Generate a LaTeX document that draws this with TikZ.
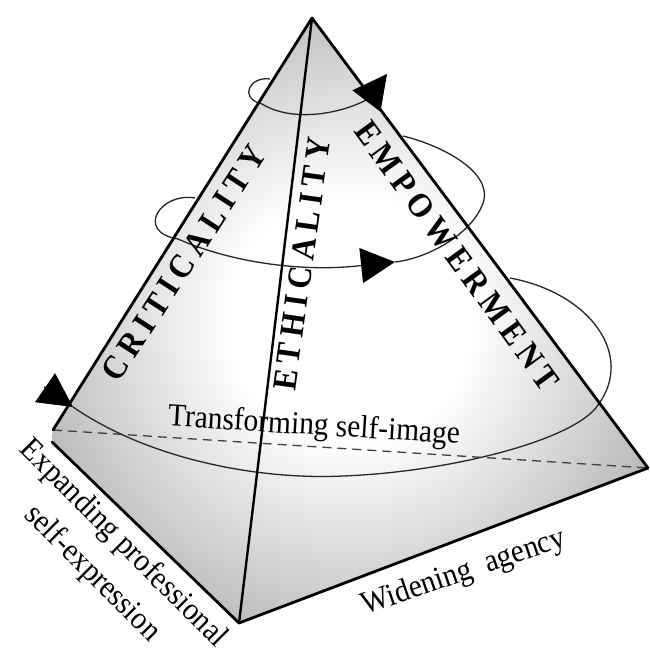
\documentclass[tikz,border=0pt]{standalone}
\usepackage{fontspec}
\setmainfont{Liberation Serif}[FakeStretch=0.92]
\newfontfamily\facefont[LetterSpace=18,FakeStretch=0.92]{Liberation Serif}
\usetikzlibrary{arrows.meta}
\pgfdeclareradialshading{pyramidglow}{\pgfpoint{0bp}{0bp}}{%
  color(0bp)=(white); color(10bp)=(white); color(28bp)=(black!28);
  color(42bp)=(black!48); color(70bp)=(black!55)}

\begin{document}
\begin{tikzpicture}[x=1pt, y=-1pt,
  edge/.style={line width=2.8pt, line cap=round, line join=round},
  coil/.style={line width=1.3pt, black!85},
  coiltip/.style={-{Triangle[length=34pt, width=35pt, color=black]}},
  facelabel/.style={font=\facefont\bfseries\fontsize{34}{34}\selectfont, inner sep=0pt},
  axislabel/.style={font=\fontsize{32}{40}\selectfont, inner sep=0pt}]
  \useasboundingbox (0,0) rectangle (649,658);
  % corners of the pyramid
  \coordinate (apex) at (312,18);
  \coordinate (left) at (53,430);
  \coordinate (leftlow) at (52,442);
  \coordinate (front) at (239,623);
  \coordinate (right) at (648,468);
  \shade[shading=pyramidglow] (apex) -- (left) -- (leftlow) -- (front) -- (right) -- cycle;
  \draw[line width=1.3pt, black!75, dash pattern=on 9pt off 6pt] (left) -- (right);

  % the coil, bottom turn
  \coordinate (c0) at (44,387);
  \coordinate (c1) at (73,407);
  \coordinate (c2) at (598,405);
  \coordinate (c3) at (510,278);
  \draw[coil, coiltip] (c0) -- (c1);
  \draw[coil] (c1) .. controls (150,460) and (260,480) .. (343,476)
    .. controls (450,472) and (575,440) .. (c2)
    .. controls (635,355) and (590,293) .. (c3);
  % middle turn
  \coordinate (c4) at (195,198);
  \coordinate (c5) at (395,262);
  \coordinate (c6) at (403,136);
  \draw[coil, coiltip] (c4) .. controls (160,192) and (135,232) .. (178,239)
    .. controls (230,262) and (300,272) .. (357,266) -- (c5);
  \draw[coil] (c5) .. controls (430,258) and (475,232) .. (484,200)
    .. controls (490,170) and (440,145) .. (c6);
  % top turn
  \coordinate (c7) at (270,79);
  \coordinate (c8) at (387,74);
  \draw[coil, coiltip] (c7) .. controls (250,76) and (238,98) .. (262,104)
    .. controls (295,124) and (345,112) .. (368,99) -- (c8);

  \draw[edge] (apex) -- (left);
  \draw[edge] (apex) -- (right);
  \draw[edge] (leftlow) -- (front) -- (right);
  \draw[edge, line width=2.4pt] (apex) -- (front);

  \node[facelabel, rotate=57] (crit) at (184,263) {CRITICALITY};
  \node[facelabel, rotate=82] (ethic) at (302,264) {ETHICALITY};
  \node[facelabel, rotate=-54] (empow) at (457,256) {EMPOWERMENT};
  \node[axislabel, rotate=-3.5] (selfimage) at (314,427) {Transforming self-image};
  \node[axislabel, rotate=-45] (expand) at (123,544) {Expanding professional};
  \node[axislabel, rotate=-45] (selfexpr) at (92,574) {self-expression};
  \node[axislabel, rotate=19] (agency) at (464,573) {Widening\ \ agency};
\end{tikzpicture}
\end{document}
